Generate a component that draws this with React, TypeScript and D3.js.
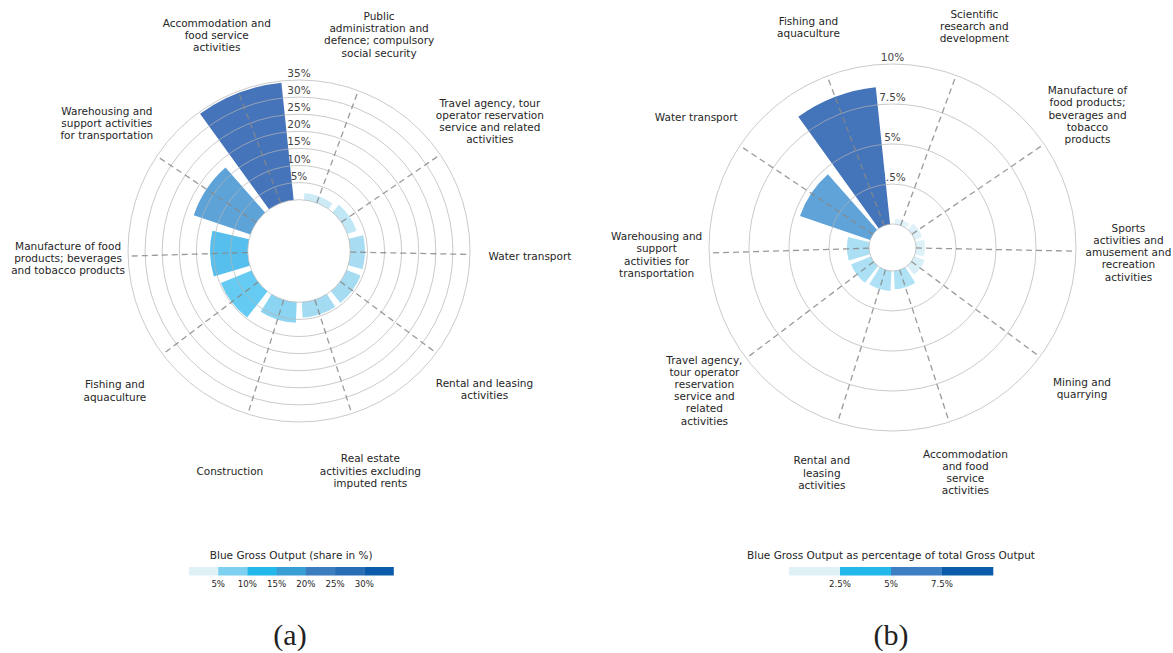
import React from 'react';
import * as d3 from 'd3';

// (a) Blue Gross Output share, counter-clockwise from the largest bar
const leftCategories = [
  'Accommodation and\nfood service\nactivities',
  'Warehousing and\nsupport activities\nfor transportation',
  'Manufacture of food\nproducts; beverages\nand tobacco products',
  'Fishing and\naquaculture',
  'Construction',
  'Real estate\nactivities excluding\nimputed rents',
  'Rental and leasing\nactivities',
  'Water transport',
  'Travel agency, tour\noperator reservation\nservice and related\nactivities',
  'Public\nadministration and\ndefence; compulsory\nsocial security',
];
const leftValues = [34.5, 17.5, 11.0, 9.7, 6.0, 4.5, 4.4, 4.3, 2.85, 2.0];
const leftTicks = [0, 5, 10, 15, 20, 25, 30, 35];
const leftLegendBreaks = [0, 5, 10, 15, 20, 25, 30, 35];

// (b) Blue Gross Output as % of total Gross Output
const rightCategories = [
  'Fishing and\naquaculture',
  'Water transport',
  'Warehousing and\nsupport\nactivities for\ntransportation',
  'Travel agency,\ntour operator\nreservation\nservice and\nrelated\nactivities',
  'Rental and\nleasing\nactivities',
  'Accommodation\nand food\nservice\nactivities',
  'Mining and\nquarrying',
  'Sports\nactivities and\namusement and\nrecreation\nactivities',
  'Manufacture of\nfood products;\nbeverages and\ntobacco\nproducts',
  'Scientific\nresearch and\ndevelopment',
];
const rightValues = [8.6, 4.64, 1.38, 1.33, 1.25, 1.15, 0.7, 0.55, 0.5, 0.35];
const rightTicks = [0, 2.5, 5, 7.5, 10];
const rightLegendBreaks = [0, 2.5, 5, 7.5, 10];

const FONT = '"DejaVu Sans", sans-serif';

const leftColor = d3.scaleLinear<string>()
  .domain([2, 3, 4.5, 6, 10, 11, 17.6, 34.5])
  .range(['#cdebf6', '#bee6f5', '#a3dbf2', '#8cd5f2', '#62caf2', '#56bfed', '#5da3d8', '#4674ba']);
const rightColor = d3.scaleLinear<string>()
  .domain([0.35, 0.7, 1.15, 1.4, 4.64, 8.6])
  .range(['#e2f3f9', '#d8eff8', '#b0e2f5', '#abdff4', '#5fa3d8', '#4474ba']);

const leftLegendColors = ['#e0f1f6', '#7dd0f0', '#22b8ea', '#3a9ed6', '#3c7dc0', '#286eb6', '#0a5caa'];
const rightLegendColors = ['#e0f1f6', '#22b8ea', '#3d7fc2', '#0a5caa'];

// matplotlib-like layout: theta offset 0.6*pi, angles spread over 2*pi - 0.1, bar width 0.52 rad
const THETA_OFFSET = 0.6 * Math.PI;
const BAR_WIDTH = 0.52;

interface PolarProps {
  categories: string[];
  values: number[];
  ticks: number[];
  cx: number;
  cy: number;
  r0: number;
  r1: number;
  labelR: number;
  color: (v: number) => string;
}

const PolarBars: React.FC<PolarProps> = ({ categories, values, ticks, cx, cy, r0, r1, labelR, color }) => {
  const n = categories.length;
  // theta (counter-clockwise, matplotlib) -> d3 angle (clockwise from north)
  const theta = d3.scaleLinear()
    .domain([0, n])
    .range([0.05, 0.05 + 2 * Math.PI - 0.1]);
  const angleOf = (i: number) => Math.PI / 2 - THETA_OFFSET - theta(i);
  const radius = d3.scaleLinear()
    .domain([0, d3.max(ticks) as number])
    .range([r0, r1]);
  const arc = d3.arc<any>();
  const pt = (a: number, r: number) => [Math.sin(a) * r, -Math.cos(a) * r];

  return (
    <g transform={`translate(${cx},${cy})`} fontFamily={FONT}>
      {ticks.filter(t => t > 0).map(t => (
        <text key={t} x={0} y={-radius(t) - 3} textAnchor="middle" fontSize={10.5} fill="#444">{`${t}%`}</text>
      ))}
      {categories.map((c, i) => (
        <path
          key={c}
          d={arc({
            innerRadius: r0,
            outerRadius: radius(values[i]),
            startAngle: angleOf(i) - BAR_WIDTH / 2,
            endAngle: angleOf(i) + BAR_WIDTH / 2,
          }) as string}
          fill={color(values[i])}
        />
      ))}
      {ticks.map(t => (
        <circle key={t} r={radius(t)} fill="none" stroke="#b4b4b4" strokeOpacity={0.7} strokeWidth={1} />
      ))}
      {categories.map((c, i) => {
        const [x0, y0] = pt(angleOf(i), r0);
        const [x1, y1] = pt(angleOf(i), r1);
        return (
          <line key={c} x1={x0} y1={y0} x2={x1} y2={y1} stroke="#888" strokeOpacity={0.85}
            strokeWidth={1.3} strokeDasharray="6,4" />
        );
      })}
      {categories.map((c, i) => {
        const [x, y] = pt(angleOf(i), labelR);
        const lines = c.split('\n');
        const lh = 12.2;
        return (
          <text key={c} x={x} y={y} textAnchor="middle" fontSize={10.5} fill="#262626" dominantBaseline="central">
            {lines.map((l, k) => (
              <tspan key={k} x={x} y={y + (k - (lines.length - 1) / 2) * lh}>{l}</tspan>
            ))}
          </text>
        );
      })}
    </g>
  );
};

interface LegendProps {
  breaks: number[];
  colors: string[];
  x: number;
  width: number;
  y: number;
  title: string;
}

const Legend: React.FC<LegendProps> = ({ breaks, colors, x, width, y, title }) => {
  const sx = d3.scaleLinear()
    .domain([breaks[0], breaks[breaks.length - 1]])
    .range([x, x + width]);
  return (
    <g fontFamily={FONT} fill="#262626">
      <text x={x + width / 2} y={y - 8} textAnchor="middle" fontSize={10.5}>{title}</text>
      {colors.map((c, i) => (
        <rect key={i} x={sx(breaks[i])} y={y} width={sx(breaks[i + 1]) - sx(breaks[i]) + 0.3} height={8.5} fill={c} />
      ))}
      {breaks.slice(1, -1).map(b => (
        <text key={b} x={sx(b)} y={y + 19.5} textAnchor="middle" fontSize={8.6}>{`${b}%`}</text>
      ))}
    </g>
  );
};

const App: React.FC = () => (
  <svg width={1173} height={653} style={{ position: 'absolute', left: 0, top: 0, background: '#fff' }}>
    <PolarBars categories={leftCategories} values={leftValues} ticks={leftTicks}
      cx={299} cy={251} r0={51.3} r1={171} labelR={231} color={leftColor} />
    <PolarBars categories={rightCategories} values={rightValues} ticks={rightTicks}
      cx={892.5} cy={247.5} r0={23.5} r1={183.5} labelR={236} color={rightColor} />
    <Legend breaks={leftLegendBreaks} colors={leftLegendColors} x={189} width={204.5} y={567}
      title="Blue Gross Output (share in %)" />
    <Legend breaks={rightLegendBreaks} colors={rightLegendColors} x={789} width={204} y={567}
      title="Blue Gross Output as percentage of total Gross Output" />
    <text x={290} y={645} textAnchor="middle" fontSize={30} fontFamily='"Liberation Serif", serif' fill="#222">(a)</text>
    <text x={891} y={645} textAnchor="middle" fontSize={30} fontFamily='"Liberation Serif", serif' fill="#222">(b)</text>
  </svg>
);

export default App;
